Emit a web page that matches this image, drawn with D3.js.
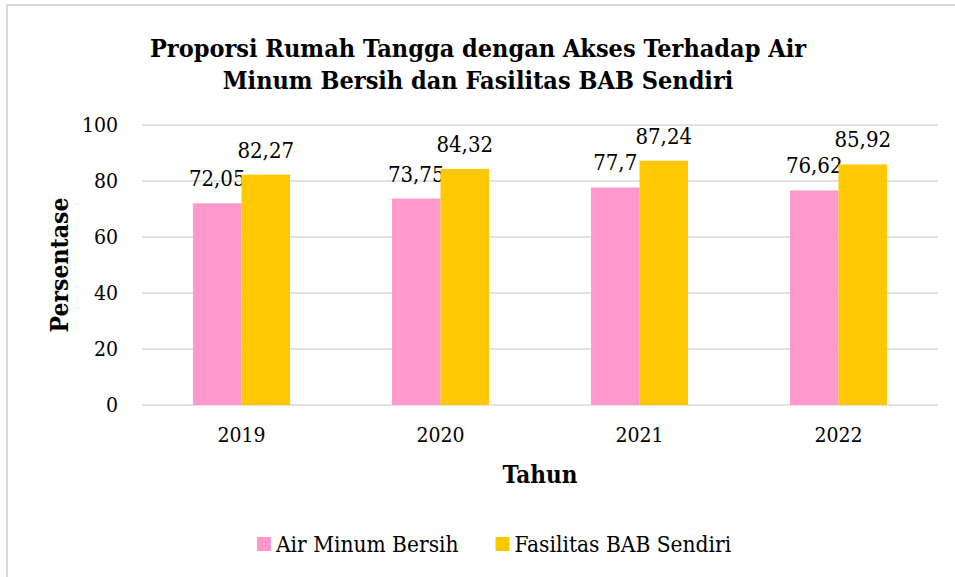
<!DOCTYPE html>
<html>
<head>
<meta charset="utf-8">
<script src="https://cdn.jsdelivr.net/npm/d3@7"></script>
<style>
  body { margin: 0; background: #fff; }
  svg text { font-family: "DejaVu Serif Condensed", "DejaVu Serif", serif; font-stretch: condensed; fill: #000; }
</style>
</head>
<body>
<svg id="chart" width="955" height="577"></svg>
<script>
// data
const years = ["2019", "2020", "2021", "2022"];
const airMinum = [72.05, 73.75, 77.7, 76.62];
const fasilitasBAB = [82.27, 84.32, 87.24, 85.92];
const seriesNames = ["Air Minum Bersih", "Fasilitas BAB Sendiri"];
const yTicks = [0, 20, 40, 60, 80, 100];

const colors = ["#ff99cc", "#ffc800"];
const fmt = v => String(v).replace(".", ",");

const svg = d3.select("#chart");
const width = 955, height = 577;
const margin = { top: 125, right: 17, bottom: 172, left: 142 };

// outer frame (only left and top edges fall inside the picture)
svg.append("rect")
  .attr("x", 7).attr("y", 5)
  .attr("width", width + 20).attr("height", height + 20)
  .attr("fill", "none")
  .attr("stroke", "#d9d9d9")
  .attr("stroke-width", 2);

const x = d3.scaleBand()
  .domain(years)
  .range([margin.left, width - margin.right])
  .paddingInner(0)
  .paddingOuter(0);

const x1 = d3.scaleBand()
  .domain(seriesNames)
  .range([0, x.bandwidth()])
  .paddingOuter(1.05)
  .paddingInner(0);

const y = d3.scaleLinear()
  .domain([0, 100])
  .range([height - margin.bottom, margin.top]);

// grid lines
svg.append("g")
  .selectAll("line")
  .data(yTicks)
  .join("line")
  .attr("x1", margin.left)
  .attr("x2", width - margin.right)
  .attr("y1", d => y(d))
  .attr("y2", d => y(d))
  .attr("stroke", "#d9d9d9")
  .attr("stroke-width", 1.5);

// y tick labels
const yAxis = svg.append("g")
  .attr("transform", `translate(${margin.left},0)`)
  .call(d3.axisLeft(y).tickValues(yTicks).tickSize(0).tickPadding(24));
yAxis.select(".domain").remove();
yAxis.attr("font-family", null);
yAxis.selectAll("text")
  .style("font-size", "21px");

// x tick labels
const xAxis = svg.append("g")
  .attr("transform", `translate(0,${y(0)})`)
  .call(d3.axisBottom(x).tickSize(0).tickPadding(22));
xAxis.select(".domain").remove();
xAxis.attr("font-family", null);
xAxis.selectAll("text")
  .style("font-size", "21px");

// bars
const groups = [airMinum, fasilitasBAB];
groups.forEach((vals, si) => {
  const g = svg.append("g");
  g.selectAll("rect")
    .data(vals)
    .join("rect")
    .attr("x", (d, i) => x(years[i]) + x1(seriesNames[si]))
    .attr("y", d => y(d))
    .attr("width", x1.bandwidth())
    .attr("height", d => y(0) - y(d))
    .attr("fill", colors[si]);

  g.selectAll("text")
    .data(vals)
    .join("text")
    .attr("x", (d, i) => x(years[i]) + x1(seriesNames[si]) + x1.bandwidth() / 2)
    .attr("y", d => y(d) - 17)
    .attr("text-anchor", "middle")
    .style("font-size", "22px")
    .text(d => fmt(d));
});

// title
const title = svg.append("text")
  .attr("x", 478)
  .attr("text-anchor", "middle")
  .style("font-weight", "bold")
  .style("font-size", "25px");
title.append("tspan").attr("x", 478).attr("y", 57)
  .text("Proporsi Rumah Tangga dengan Akses Terhadap Air");
title.append("tspan").attr("x", 478).attr("y", 89)
  .text("Minum Bersih dan Fasilitas BAB Sendiri");

// axis titles
svg.append("text")
  .attr("x", 540)
  .attr("y", 483)
  .attr("text-anchor", "middle")
  .style("font-weight", "bold")
  .style("font-size", "24px")
  .text("Tahun");

svg.append("text")
  .attr("transform", "translate(68,265) rotate(-90)")
  .attr("text-anchor", "middle")
  .style("font-weight", "bold")
  .style("font-size", "24.5px")
  .text("Persentase");

// legend
const legend = svg.append("g").attr("transform", "translate(257,552)");
let lx = 0;
seriesNames.forEach((name, i) => {
  const item = legend.append("g").attr("transform", `translate(${lx},0)`);
  item.append("rect")
    .attr("x", 0).attr("y", -15)
    .attr("width", 14).attr("height", 14)
    .attr("fill", colors[i]);
  const t = item.append("text")
    .attr("x", 19).attr("y", 0)
    .style("font-size", "22.5px")
    .text(name);
  lx += 19 + t.node().getComputedTextLength() + 37;
});
</script>
</body>
</html>
